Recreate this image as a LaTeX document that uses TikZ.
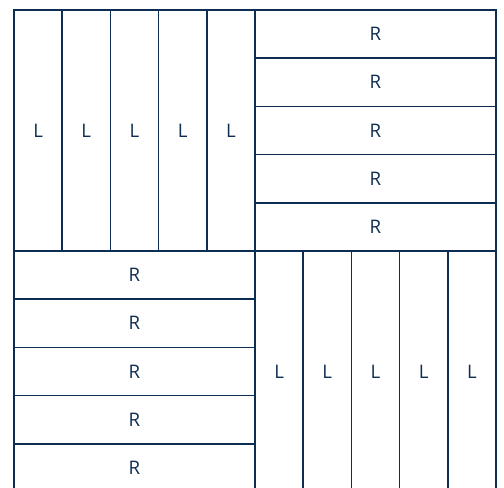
\documentclass[tikz,border=0pt]{standalone}
\usepackage{fontspec}
\setmainfont{Open Sans}
\definecolor{navy}{RGB}{14,45,82}
\begin{document}
\begin{tikzpicture}[x=0.75pt,y=-0.75pt,
  cell/.style={draw=navy,line width=1.1pt,inner sep=0pt,text=navy,font=\fontsize{14}{16}\selectfont},
  vcell/.style={cell,minimum width=36.15pt,minimum height=180.75pt},
  hcell/.style={cell,minimum width=180.75pt,minimum height=36.15pt}]
\useasboundingbox (0,0) rectangle (504,488);
\clip (0,0) rectangle (504,488);
% top-left: vertical L strips
\foreach \i in {0,...,4}{
  \node[vcell] (tl\i) at ({14+48.2*\i+24.1},{10+120.5}) {L};
}
% top-right: horizontal R strips
\foreach \i in {0,...,4}{
  \node[hcell] (tr\i) at ({255+120.5},{10+48.2*\i+24.1}) {R};
}
% bottom-left: horizontal R strips
\foreach \i in {0,...,4}{
  \node[hcell] (bl\i) at ({14+120.5},{251+48.2*\i+24.1}) {R};
}
% bottom-right: vertical L strips
\foreach \i in {0,...,4}{
  \node[vcell] (br\i) at ({255+48.2*\i+24.1},{251+120.5}) {L};
}
\end{tikzpicture}
\end{document}
